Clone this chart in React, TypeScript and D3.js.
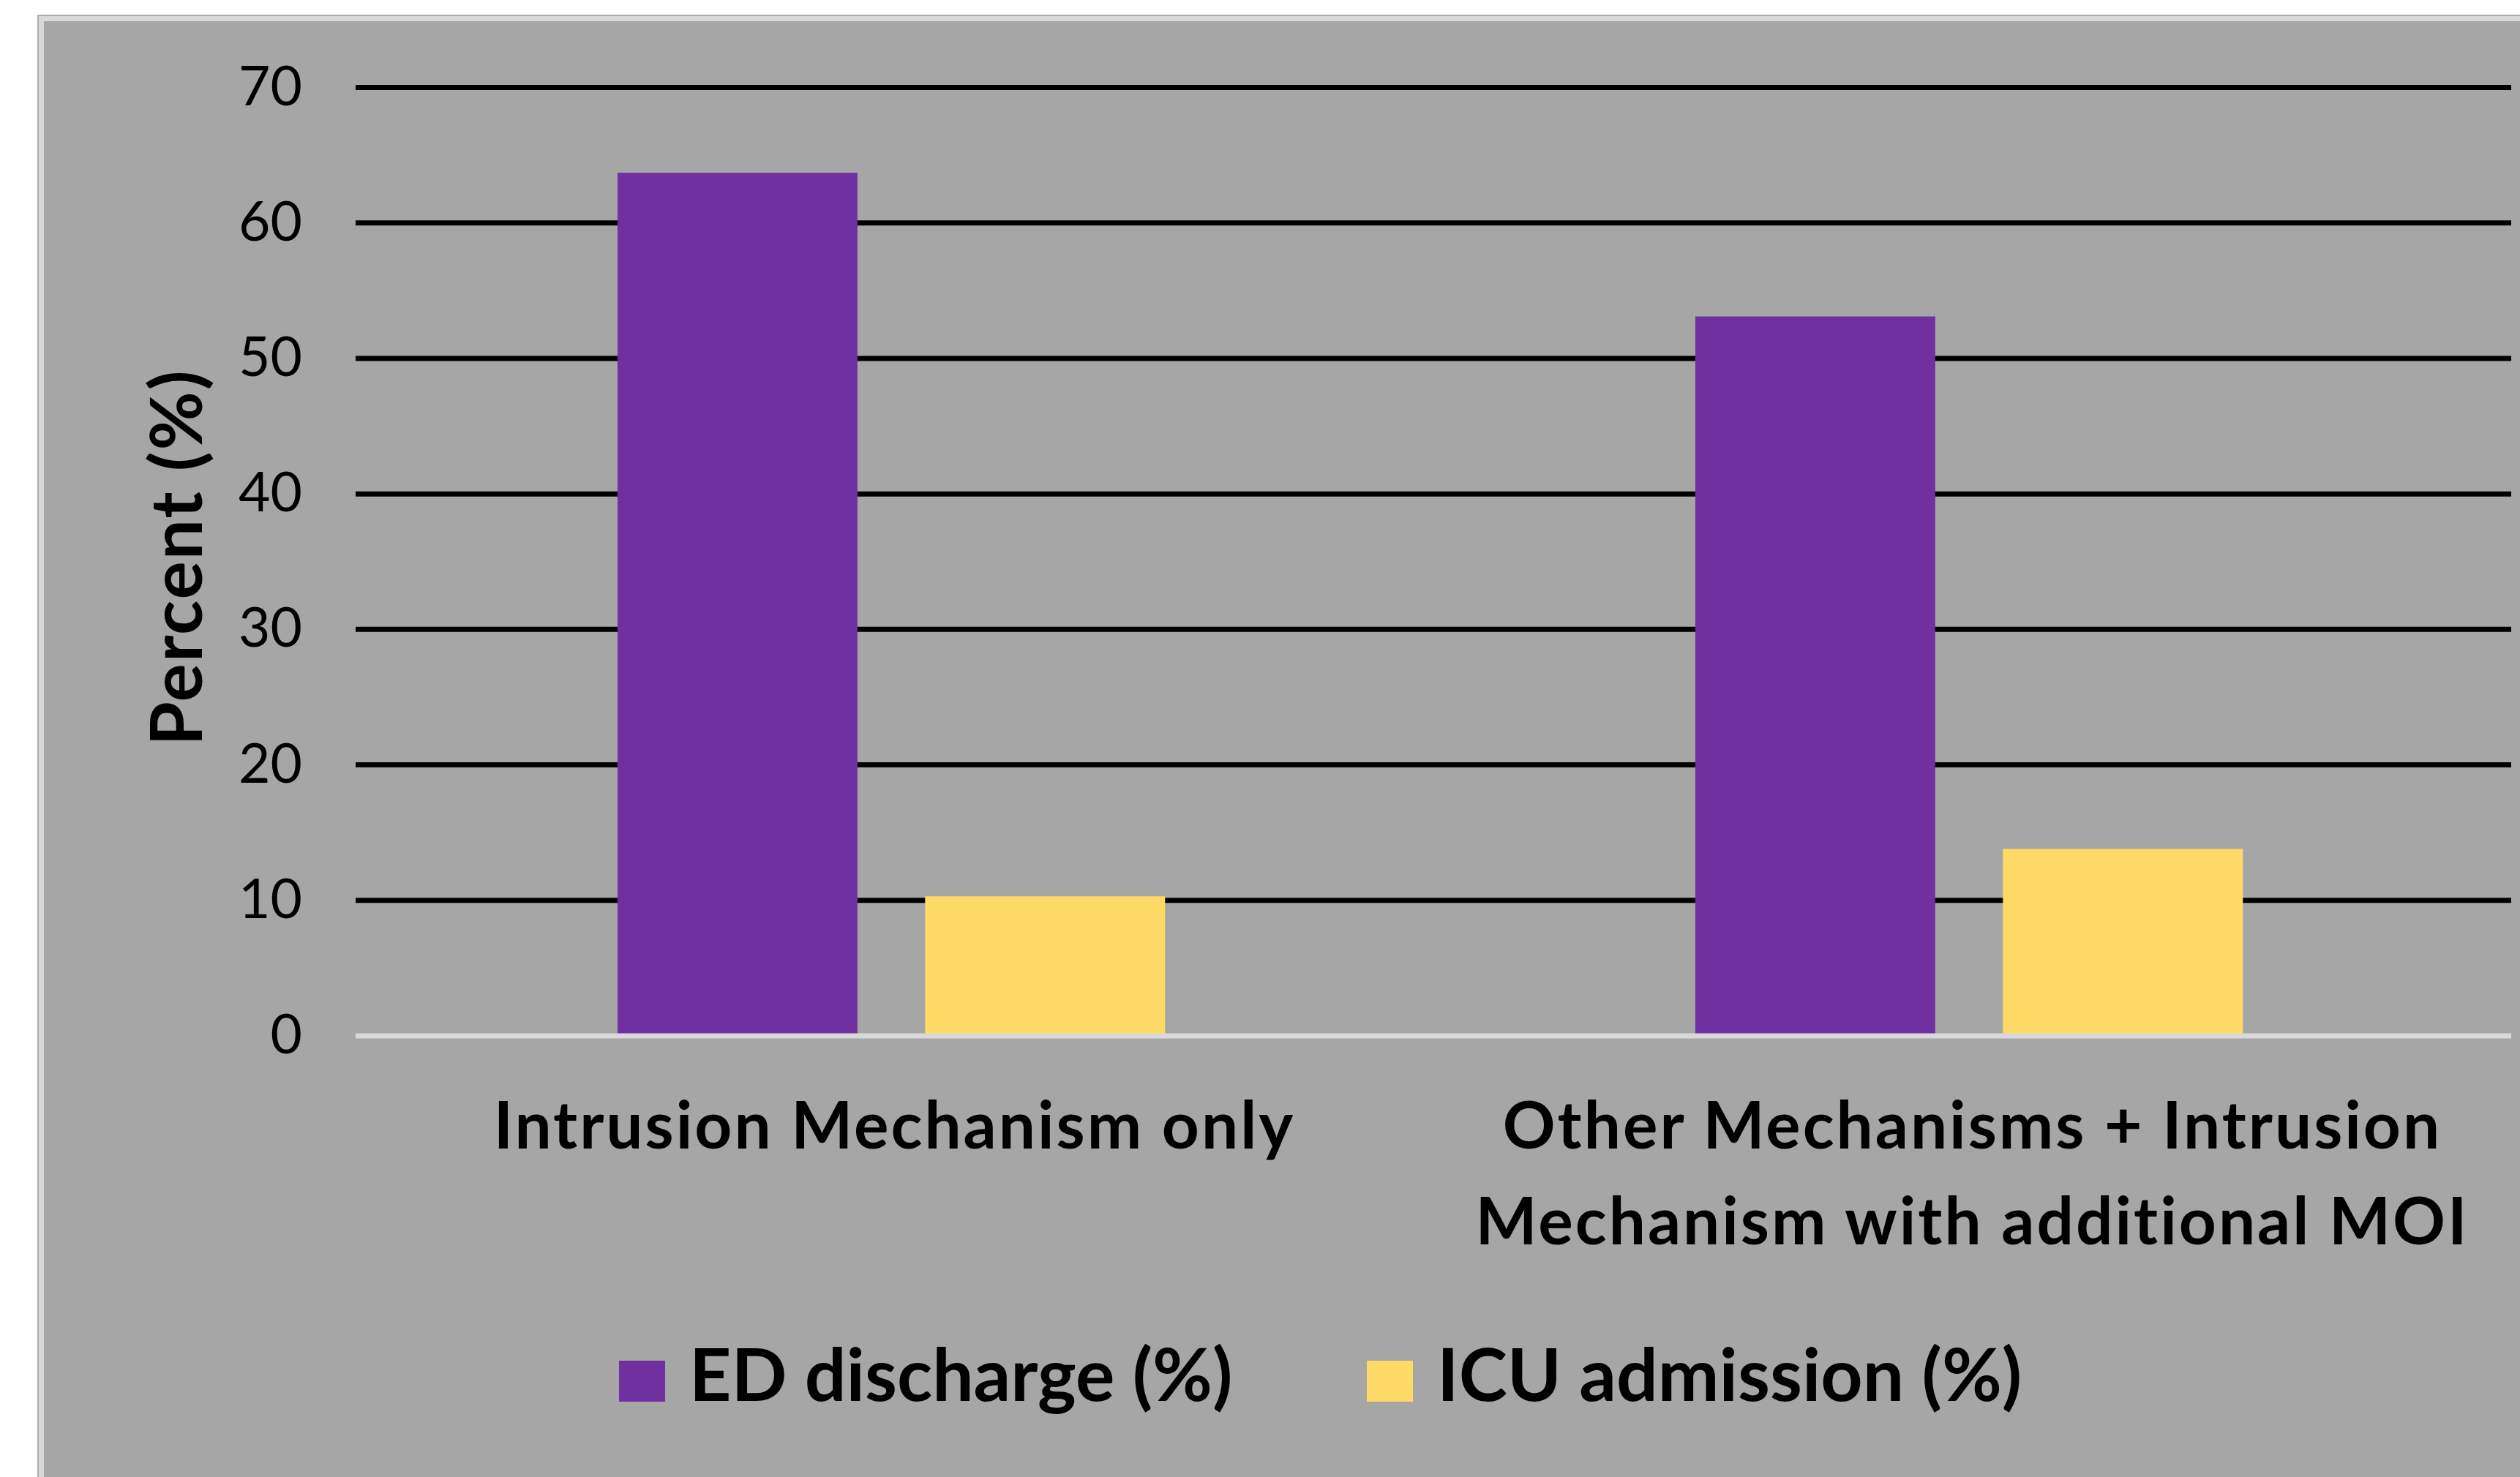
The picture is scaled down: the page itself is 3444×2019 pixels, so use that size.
import { useEffect, useRef } from 'react'
import * as d3 from 'd3'

const categories = [
  ['Intrusion Mechanism only'],
  ['Other Mechanisms + Intrusion', 'Mechanism with additional MOI'],
]
const seriesNames = ['ED discharge (%)', 'ICU admission (%)']
const edDischarge = [63.7, 53.1]
const icuAdmission = [10.3, 13.8]
const yTicks = [0, 10, 20, 30, 40, 50, 60, 70]
const colors = ['#7030A0', '#FFD966']

const FONT = 'Lato, Carlito, Calibri, sans-serif'

const App = () => {
  const svgRef = useRef(null)

  useEffect(() => {
    document.body.style.margin = '0'
    const width = 3444
    const height = 2019

    const svg = d3.select(svgRef.current).attr('width', width).attr('height', height)
    svg.selectAll('*').remove()

    // chart frame
    svg
      .append('rect')
      .attr('x', 52)
      .attr('y', 21)
      .attr('width', width)
      .attr('height', height)
      .attr('fill', '#d9d9d9')
      .attr('stroke', '#9a9a9a')
      .attr('stroke-width', 1.5)
    svg
      .append('rect')
      .attr('x', 60)
      .attr('y', 29)
      .attr('width', width)
      .attr('height', height)
      .attr('fill', '#a6a6a6')

    const x0 = d3
      .scaleBand<number>()
      .domain(d3.range(categories.length))
      .range([486, 3432])
    const x1 = d3
      .scaleBand<number>()
      .domain(d3.range(seriesNames.length))
      .range([x0.bandwidth() * 0.243, x0.bandwidth() * 0.751])
      .paddingInner(0.22)
    const y = d3.scaleLinear().domain([0, 70]).range([1416, 119.5])

    // gridlines
    svg
      .append('g')
      .selectAll('line')
      .data(yTicks.filter((t) => t > 0))
      .join('line')
      .attr('x1', 486)
      .attr('x2', 3432)
      .attr('y1', (d) => y(d))
      .attr('y2', (d) => y(d))
      .attr('stroke', '#000')
      .attr('stroke-width', 7)

    // tick labels
    svg
      .append('g')
      .selectAll('text')
      .data(yTicks)
      .join('text')
      .attr('x', 413)
      .attr('y', (d) => y(d) + 24)
      .attr('text-anchor', 'end')
      .attr('font-family', FONT)
      .attr('font-size', 75)
      .attr('fill', '#000')
      .text((d) => d)

    // bars
    const values = [edDischarge, icuAdmission]
    values.forEach((vals, s) => {
      svg
        .append('g')
        .selectAll('rect')
        .data(vals)
        .join('rect')
        .attr('x', (_, i) => (x0(i) as number) + (x1(s) as number))
        .attr('y', (d) => y(d))
        .attr('width', x1.bandwidth())
        .attr('height', (d) => y(0) - y(d))
        .attr('fill', colors[s])
    })

    // zero line
    svg
      .append('line')
      .attr('x1', 486)
      .attr('x2', 3432)
      .attr('y1', y(0))
      .attr('y2', y(0))
      .attr('stroke', '#d9d9d9')
      .attr('stroke-width', 7)

    // category labels
    categories.forEach((lines, i) => {
      const cx = (x0(i) as number) + x0.bandwidth() / 2
      const t = svg
        .append('text')
        .attr('text-anchor', 'middle')
        .attr('font-family', FONT)
        .attr('font-weight', 'bold')
        .attr('font-size', 89)
        .attr('letter-spacing', 3)
        .attr('fill', '#000')
      lines.forEach((line, j) => {
        t.append('tspan')
          .attr('x', cx)
          .attr('y', 1570 + j * 131)
          .text(line)
      })
    })

    // y axis title
    svg
      .append('text')
      .attr('transform', 'translate(276, 762) rotate(-90)')
      .attr('text-anchor', 'middle')
      .attr('font-family', FONT)
      .attr('font-weight', 'bold')
      .attr('font-size', 98)
      .attr('letter-spacing', 2)
      .attr('fill', '#000')
      .text('Percent (%)')

    // legend
    const legendX = [846, 1868]
    seriesNames.forEach((name, s) => {
      const g = svg.append('g').attr('transform', `translate(${legendX[s]}, 1860)`)
      g.append('rect').attr('width', 63).attr('height', 56).attr('fill', colors[s])
      g.append('text')
        .attr('x', 96)
        .attr('y', 55)
        .attr('font-family', FONT)
        .attr('font-weight', 'bold')
        .attr('font-size', 100)
        .attr('fill', '#000')
        .text(name)
    })
  }, [])

  return <svg ref={svgRef} style={{ display: 'block' }}></svg>
}

export default App
